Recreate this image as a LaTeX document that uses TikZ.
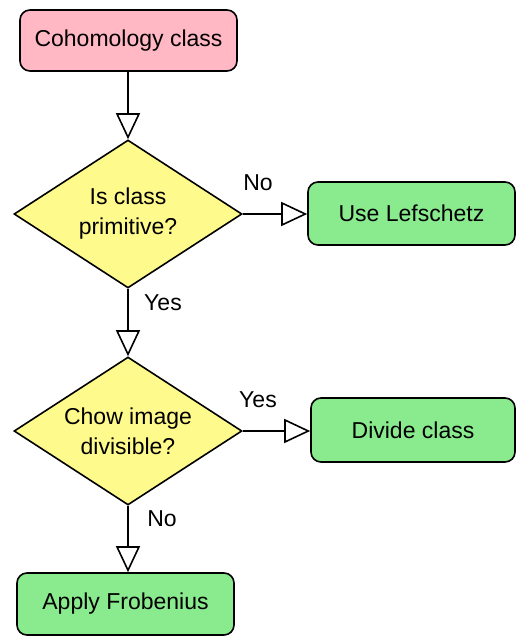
\documentclass[tikz,border=0pt]{standalone}
\usepackage{fontspec}
\setmainfont{Liberation Sans}
\usetikzlibrary{shapes.geometric,arrows.meta}

\definecolor{startpink}{RGB}{255,184,196}
\definecolor{askyellow}{RGB}{255,250,140}
\definecolor{stepgreen}{RGB}{138,234,142}

\tikzset{
  box/.style={draw, line width=1.6pt, rounded corners=10pt, align=center,
    font=\fontsize{23}{30}\selectfont, inner sep=0pt},
  ask/.style={draw, diamond, line width=1.6pt, fill=askyellow, align=center,
    font=\fontsize{23}{30}\selectfont, inner sep=0pt, aspect=1.54,
    minimum width=228pt, minimum height=148pt},
  flow/.style={line width=2.2pt, -{Triangle[open, fill=white, length=26pt, width=24pt, line width=1.6pt]}},
  tag/.style={font=\fontsize{23}{28}\selectfont}
}

\begin{document}
\begin{tikzpicture}[x=1pt, y=-1pt]
  \useasboundingbox (0,0) rectangle (516,637);

  \node[box, fill=startpink, minimum width=217pt, minimum height=61pt] (coh) at (128.5,40.5) {Cohomology class};
  \node[ask] (prim) at (128,214) {Is class\\primitive?};
  \node[box, fill=stepgreen, minimum width=207pt, minimum height=63pt] (lef) at (411.5,213.5) {Use Lefschetz};
  \node[ask] (chow) at (128,431) {Chow image\\divisible?};
  \node[box, fill=stepgreen, minimum width=204pt, minimum height=64pt] (dvd) at (413,430) {Divide class};
  \node[box, fill=stepgreen, minimum width=217pt, minimum height=62pt] (frob) at (125.5,604) {Apply Frobenius};

  \draw[flow] (coh.south -| prim.north) -- (prim.north);
  \draw[flow] (prim.east) -- (lef.west |- prim.east);
  \draw[flow] (prim.south) -- (chow.north);
  \draw[flow] (chow.east) -- (dvd.west |- chow.east);
  \draw[flow] (chow.south) -- (chow.south |- frob.north);

  \node[tag] (no1) at (258,183) {No};
  \node[tag] (yes1) at (163,303) {Yes};
  \node[tag] (yes2) at (258,400) {Yes};
  \node[tag] (no2) at (162,519) {No};
\end{tikzpicture}
\end{document}
